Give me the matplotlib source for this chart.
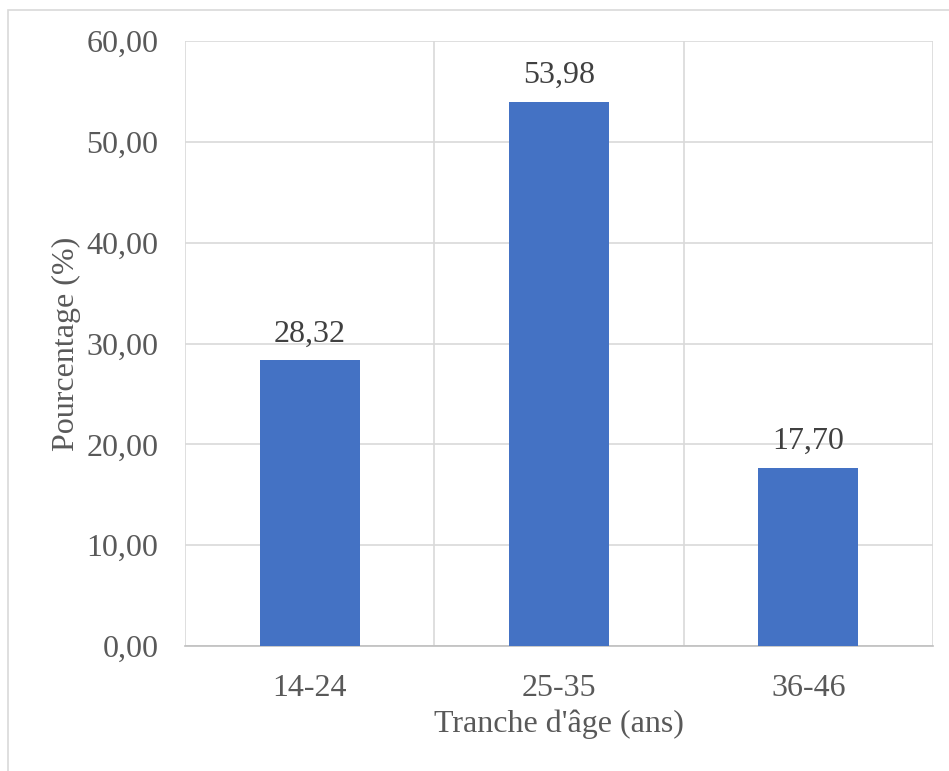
import matplotlib.pyplot as plt
from matplotlib.patches import Rectangle
from matplotlib.ticker import FuncFormatter, MultipleLocator

# données
tranches = ['14-24', '25-35', '36-46']
pourcentages = [28.32, 53.98, 17.70]

plt.rcParams['font.family'] = ['Liberation Serif', 'DejaVu Serif']

fig = plt.figure(figsize=(9.49, 7.71), dpi=100)
ax = fig.add_axes([185 / 949, 1 - 646 / 771, (933 - 185) / 949, (646 - 41) / 771])

x = list(range(len(tranches)))
ax.bar(x, pourcentages, width=0.4, color='#4472C4', zorder=3)

for xi, v in zip(x, pourcentages):
    ax.text(xi, v + 1.2, f'{v:.2f}'.replace('.', ','), ha='center', va='bottom',
            fontsize=23, color='#404040', zorder=4)

ax.set_xlim(-0.5, len(tranches) - 0.5)
ax.set_ylim(0, 60)
ax.yaxis.set_major_locator(MultipleLocator(10))
ax.yaxis.set_major_formatter(FuncFormatter(lambda v, p: f'{v:.2f}'.replace('.', ',')))
ax.set_xticks(x)
ax.set_xticklabels(tranches)

# grille verticale entre les catégories
ax.set_xticks([i - 0.5 for i in range(len(tranches) + 1)], minor=True)
ax.grid(axis='y', which='major', color='#D9D9D9', linewidth=1.2, zorder=0)
ax.grid(axis='x', which='minor', color='#D9D9D9', linewidth=1.2, zorder=0)
ax.tick_params(axis='both', which='both', length=0, labelsize=23, colors='#595959')
ax.tick_params(axis='x', pad=20)
ax.tick_params(axis='y', pad=19)

for s in ['top', 'right', 'left']:
    ax.spines[s].set_visible(False)
ax.spines['bottom'].set_color('#BFBFBF')
ax.spines['bottom'].set_linewidth(1.2)

ax.set_xlabel("Tranche d'âge (ans)", fontsize=23, color='#595959', labelpad=5)
ax.set_ylabel('Pourcentage (%)', fontsize=23, color='#595959', labelpad=4)

fig.patches.append(Rectangle((8 / 949, -0.01), 1.2, 1.01 - 10 / 771, transform=fig.transFigure,
                             fill=False, edgecolor='#D9D9D9', linewidth=1.2))

fig.savefig('out.png', dpi=100)
